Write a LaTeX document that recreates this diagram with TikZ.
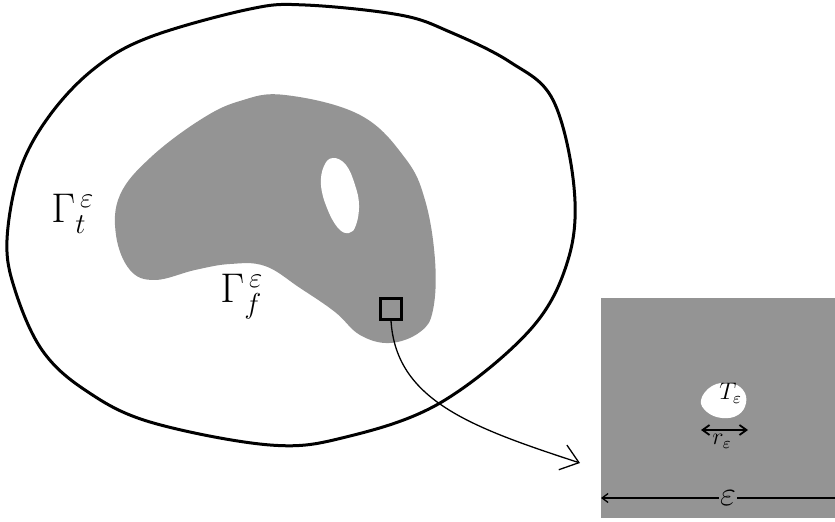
\documentclass[tikz,border=0pt]{standalone}
\usetikzlibrary{arrows.meta}
\begin{document}
\begin{tikzpicture}[x=0.5pt,y=-0.5pt]
\tikzset{
  stipple/.style={fill=black!42},
  outerline/.style={line width=1.5pt},
  biglabel/.style={inner sep=0pt, font=\huge},
  smalllabel/.style={inner sep=0pt, font=\large},
  dimline/.style={line width=0.9pt},
}
\useasboundingbox (0,0) rectangle (835,522);
% outer boundary Gamma_t
\draw[outerline] plot[smooth cycle, tension=0.6] coordinates {
  (305,5) (400,15) (450,32) (510,62) (553,100) (574,187) (568,260)
  (530,330) (440,403) (346,437) (270,445) (150,422) (85,390) (42,350)
  (15,290) (7,240) (20,170) (50,115) (95,68) (150,37) (250,9)};
% shaded region
\fill[stipple] plot[smooth cycle, tension=0.65] coordinates {
  (285,95) (360,115) (405,158) (425,200) (435,260) (433,310) (420,332) (390,343)
  (360,335) (335,312) (300,288) (265,266) (230,264) (195,270) (155,280) (130,270)
  (116,235) (120,195) (150,158) (200,120) (240,101)};
% hole
\fill[white] plot[smooth cycle, tension=0.7] coordinates {
  (333,158) (346,165) (355,185) (359,205) (356,225) (349,233) (338,228)
  (327,208) (321,185) (324,166)};
% labels
\node[biglabel, anchor=base west] (gt) at (51,223) {$\Gamma_{t}^{\,\varepsilon}$};
\node[biglabel, anchor=base west] (gf) at (220,303) {$\Gamma_{f}^{\,\varepsilon}$};
% small square
\node[draw, line width=1.25pt, fill=black!42, minimum size=10.5pt, inner sep=0pt] (sq) at (391,309) {};
% zoom arrow
\coordinate (tip) at (580,463);
\draw[line width=0.65pt, -{Straight Barb[length=8.5pt,width=13pt,line width=0.65pt]}]
  (sq.south) .. controls (396,400) and (470,427) .. (tip);
% inset
\fill[stipple] (601,298) rectangle (835,518);
\fill[white] plot[smooth cycle, tension=0.7] coordinates {
  (712,386) (730,383) (743,390) (746,403) (738,415) (722,418) (707,412) (701,400)};
\node[smalllabel, anchor=base west] (T) at (719,400) {$T_{\varepsilon}$};
\coordinate (rl) at (701,430);
\coordinate (rr) at (748,430);
\draw[dimline, {Straight Barb[length=3.5pt,width=5pt]}-{Straight Barb[length=3.5pt,width=5pt]}] (rl) -- (rr);
\node[smalllabel, anchor=base west] (r) at (712,445) {$r_{\varepsilon}$};
\node[inner sep=0.5pt, font=\LARGE] (eps) at (728,498) {$\varepsilon$};
\coordinate (el) at (601,498);
\coordinate (er) at (835,498);
\draw[line width=0.65pt, -{Straight Barb[length=3pt,width=4.5pt]}] (eps.west) -- (el);
\draw[line width=0.65pt] (eps.east) -- (er);
\end{tikzpicture}
\end{document}
